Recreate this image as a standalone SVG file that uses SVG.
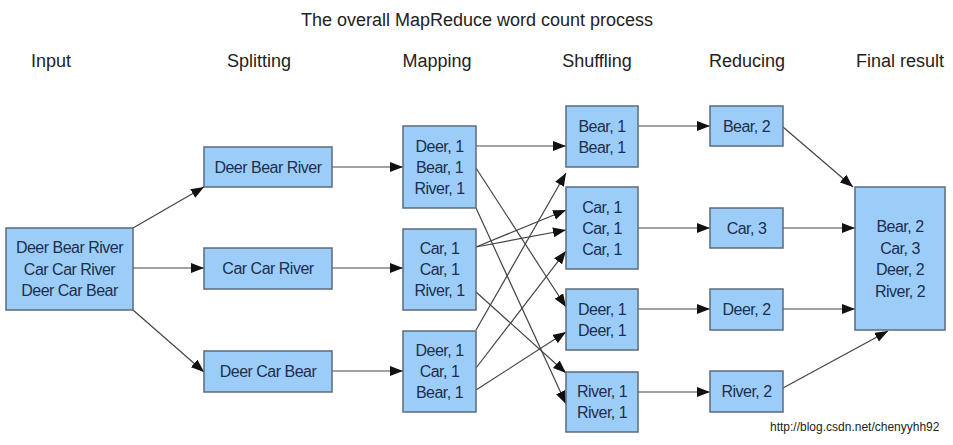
<svg xmlns="http://www.w3.org/2000/svg" width="953" height="445" viewBox="0 0 953 445">
<style>
.bg{fill:#ffffff}
.box{fill:#9ccdf9;stroke:#5b6b7b;stroke-width:1.5}
.t{font-family:"Liberation Sans",Arial,sans-serif;font-size:16px;fill:#1c2e4e;text-anchor:middle;letter-spacing:-0.5px}
.h{font-family:"Liberation Sans",Arial,sans-serif;font-size:18px;fill:#222;text-anchor:middle}
.wm{font-family:"Liberation Sans",Arial,sans-serif;font-size:12px;fill:#222}
.c line{stroke:#444;stroke-width:1.2;marker-end:url(#ah)}
</style>
<defs>
<marker id="ah" markerUnits="userSpaceOnUse" markerWidth="14" markerHeight="11" refX="13" refY="5" orient="auto">
<path d="M0,0 L13,5 L0,10 z" fill="#111"/>
</marker>
</defs>
<rect class="bg" x="0" y="0" width="953" height="445"/>
<text class="h" x="477" y="26">The overall MapReduce word count process</text>
<text class="h" x="51" y="67">Input</text>
<text class="h" x="259" y="67">Splitting</text>
<text class="h" x="437" y="67">Mapping</text>
<text class="h" x="597" y="67">Shuffling</text>
<text class="h" x="747" y="67">Reducing</text>
<text class="h" x="900" y="67">Final result</text>

<g class="c" id="connectors">
<line x1="133" y1="228" x2="204" y2="187"/>
<line x1="133" y1="268" x2="204" y2="268"/>
<line x1="133" y1="310" x2="204" y2="372"/>
<line x1="332" y1="167" x2="403" y2="167"/>
<line x1="332" y1="268" x2="403" y2="268"/>
<line x1="332" y1="371" x2="403" y2="371"/>
<line x1="476" y1="146" x2="566" y2="146"/>
<line x1="476" y1="168" x2="566" y2="307"/>
<line x1="476" y1="208" x2="566" y2="404"/>
<line x1="476" y1="247" x2="566" y2="210"/>
<line x1="476" y1="247" x2="566" y2="230"/>
<line x1="476" y1="292" x2="566" y2="373"/>
<line x1="476" y1="330" x2="566" y2="173"/>
<line x1="476" y1="368" x2="566" y2="251"/>
<line x1="476" y1="390" x2="566" y2="332"/>
<line x1="638" y1="126" x2="710" y2="126"/>
<line x1="638" y1="228" x2="710" y2="228"/>
<line x1="638" y1="309" x2="710" y2="309"/>
<line x1="638" y1="392" x2="710" y2="392"/>
<line x1="783" y1="127" x2="853" y2="187"/>
<line x1="783" y1="228" x2="855" y2="228"/>
<line x1="783" y1="309" x2="855" y2="309"/>
<line x1="783" y1="388" x2="888" y2="331"/>
</g>

<g id="input">
<rect class="box" x="6" y="228" width="127" height="82"/>
<text class="t" x="69.5" y="253">Deer Bear River</text>
<text class="t" x="69.5" y="274.5">Car Car River</text>
<text class="t" x="69.5" y="296">Deer Car Bear</text>
</g>

<g id="split1"><rect class="box" x="204" y="147" width="128" height="40"/><text class="t" x="268" y="172.5">Deer Bear River</text></g>
<g id="split2"><rect class="box" x="204" y="248" width="128" height="41"/><text class="t" x="268" y="274">Car Car River</text></g>
<g id="split3"><rect class="box" x="204" y="351" width="128" height="41"/><text class="t" x="268" y="377">Deer Car Bear</text></g>

<g id="map1"><rect class="box" x="403" y="126" width="73" height="82"/>
<text class="t" x="439.5" y="151.5">Deer, 1</text><text class="t" x="439.5" y="172.5">Bear, 1</text><text class="t" x="439.5" y="193.5">River, 1</text></g>
<g id="map2"><rect class="box" x="403" y="229" width="73" height="81"/>
<text class="t" x="439.5" y="254">Car, 1</text><text class="t" x="439.5" y="275">Car, 1</text><text class="t" x="439.5" y="296">River, 1</text></g>
<g id="map3"><rect class="box" x="403" y="331" width="73" height="81"/>
<text class="t" x="439.5" y="356">Deer, 1</text><text class="t" x="439.5" y="377">Car, 1</text><text class="t" x="439.5" y="398">Bear, 1</text></g>

<g id="shuf1"><rect class="box" x="566" y="106" width="72" height="61"/>
<text class="t" x="602" y="131.5">Bear, 1</text><text class="t" x="602" y="152.5">Bear, 1</text></g>
<g id="shuf2"><rect class="box" x="566" y="187" width="72" height="82"/>
<text class="t" x="602" y="212.5">Car, 1</text><text class="t" x="602" y="233.5">Car, 1</text><text class="t" x="602" y="254.5">Car, 1</text></g>
<g id="shuf3"><rect class="box" x="566" y="289" width="72" height="61"/>
<text class="t" x="602" y="314.5">Deer, 1</text><text class="t" x="602" y="335.5">Deer, 1</text></g>
<g id="shuf4"><rect class="box" x="566" y="372" width="72" height="60"/>
<text class="t" x="602" y="397">River, 1</text><text class="t" x="602" y="418">River, 1</text></g>

<g id="red1"><rect class="box" x="710" y="106" width="73" height="40"/><text class="t" x="746.5" y="131.5">Bear, 2</text></g>
<g id="red2"><rect class="box" x="710" y="208" width="73" height="40"/><text class="t" x="746.5" y="233.5">Car, 3</text></g>
<g id="red3"><rect class="box" x="710" y="289" width="73" height="41"/><text class="t" x="746.5" y="315">Deer, 2</text></g>
<g id="red4"><rect class="box" x="710" y="371" width="73" height="41"/><text class="t" x="746.5" y="397">River, 2</text></g>

<g id="final"><rect class="box" x="855" y="187" width="90" height="143"/>
<text class="t" x="900" y="232">Bear, 2</text><text class="t" x="900" y="253.5">Car, 3</text><text class="t" x="900" y="275">Deer, 2</text><text class="t" x="900" y="296.5">River, 2</text></g>

<text class="wm" x="770" y="431">http://blog.csdn.net/chenyyhh92</text>
</svg>
